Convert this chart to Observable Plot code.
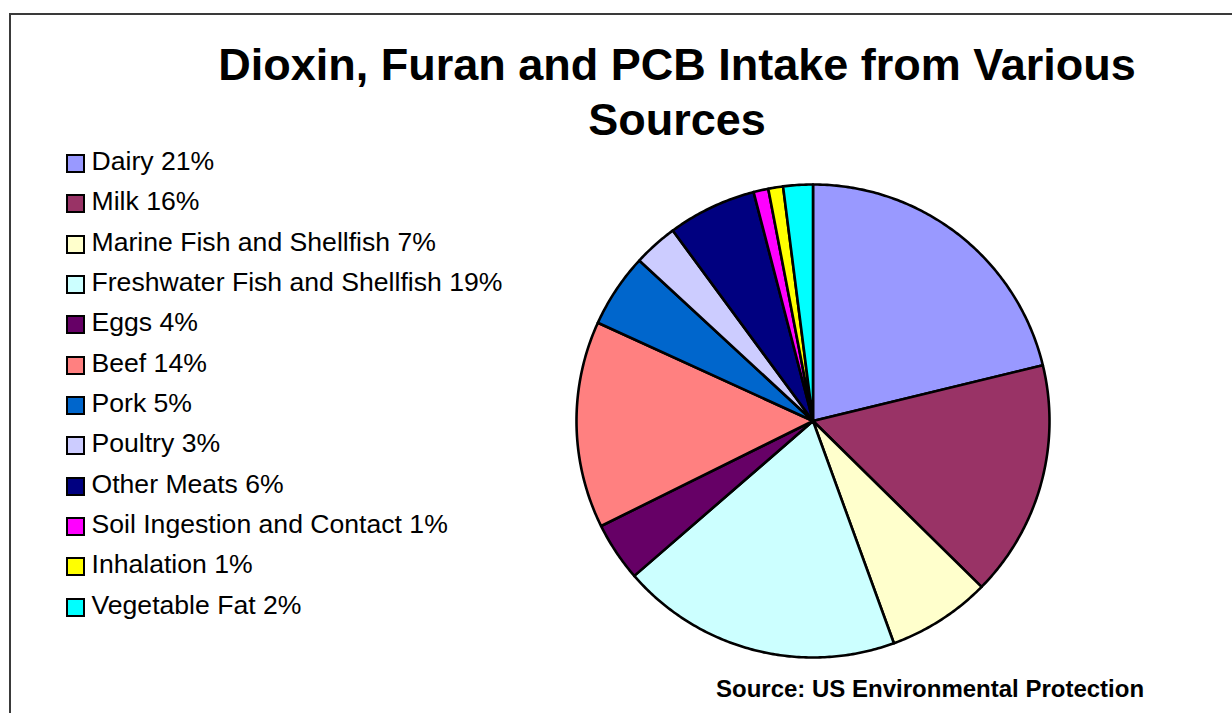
<!DOCTYPE html>
<html>
<head>
<meta charset="utf-8">
<script src="https://cdn.jsdelivr.net/npm/d3@7"></script>
<script src="https://cdn.jsdelivr.net/npm/@observablehq/plot@0.6"></script>
<style>
  body { margin: 0; background: #fff; font-family: "Liberation Sans", Arial, sans-serif; }
  #page { position: relative; width: 1232px; height: 713px; overflow: hidden; background: #fff; }
  #frame { position: absolute; left: 9px; top: 13px; width: 1300px; height: 800px; border: 2px solid #3a3a3a; box-sizing: border-box; pointer-events: none; }
  #title { position: absolute; left: 177px; width: 1000px; top: 37px; text-align: center; font-weight: bold; font-size: 45px; line-height: 55px; color: #000; }
  #legend { position: absolute; left: 66px; top: 141px; }
  .row { position: relative; height: 40.35px; width: 520px; }
  .sw { position: absolute; left: 0; top: 13px; width: 19px; height: 19px; border: 2.2px solid #000; box-sizing: border-box; }
  .lab { position: absolute; left: 25.5px; top: 0; font-size: 26.6px; line-height: 40.35px; white-space: nowrap; color: #000; }
  #caption { position: absolute; left: 716px; top: 676.7px; font-weight: bold; font-size: 24px; line-height: 24px; white-space: nowrap; color: #000; }
  #chart { position: absolute; left: 0; top: 0; }
</style>
</head>
<body>
<div id="page">
  <div id="chart"></div>
  <div id="title">Dioxin, Furan and PCB Intake from Various<br>Sources</div>
  <div id="legend"></div>
  <div id="caption">Source: US Environmental Protection</div>
  <div id="frame"></div>
</div>
<script>
// ---- data ----
const categories = [
  "Dairy", "Milk", "Marine Fish and Shellfish", "Freshwater Fish and Shellfish",
  "Eggs", "Beef", "Pork", "Poultry", "Other Meats",
  "Soil Ingestion and Contact", "Inhalation", "Vegetable Fat"
];
const percents = [21, 16, 7, 19, 4, 14, 5, 3, 6, 1, 1, 2];
const colors = [
  "#9999FF", "#993366", "#FFFFCC", "#CCFFFF",
  "#660066", "#FF8080", "#0066CC", "#CCCCFF", "#000080",
  "#FF00FF", "#FFFF00", "#00FFFF"
];
const titleText = "Dioxin, Furan and PCB Intake from Various Sources";
const captionText = "Source: US Environmental Protection";

// ---- layout ----
const W = 1232, H = 713;
const cx = 812.5, cy = 420.5, R = 236.5;

// ---- slices from d3.pie (clockwise from 12 o'clock) ----
const labels = categories.map((c, i) => `${c} ${percents[i]}%`);
const arcs = d3.pie().sort(null).value(d => d.value)(
  categories.map((c, i) => ({name: labels[i], value: percents[i]}))
);
const features = arcs.map(a => {
  const pts = [[0, 0]];
  const n = Math.max(4, Math.ceil((a.endAngle - a.startAngle) / 0.01));
  for (let k = 0; k <= n; k++) {
    const t = a.startAngle + (a.endAngle - a.startAngle) * k / n;
    pts.push([Math.sin(t), Math.cos(t)]);
  }
  pts.push([0, 0]);
  return {type: "Feature", properties: {name: a.data.name}, geometry: {type: "Polygon", coordinates: [pts]}};
});

const projection = d3.geoIdentity().reflectY(true).scale(R).translate([cx, cy]);

const plot = Plot.plot({
  width: W,
  height: H,
  margin: 0,
  style: {background: "transparent", overflow: "visible"},
  projection,
  color: {domain: labels, range: colors},
  marks: [
    Plot.geo(features, {fill: d => d.properties.name, stroke: "#000", strokeWidth: 2.6, strokeLinejoin: "round"})
  ]
});
document.getElementById("chart").appendChild(plot);

// ---- legend ----
const legend = document.getElementById("legend");
labels.forEach((l, i) => {
  const row = document.createElement("div");
  row.className = "row";
  const sw = document.createElement("div");
  sw.className = "sw";
  sw.style.background = colors[i];
  const lab = document.createElement("div");
  lab.className = "lab";
  lab.textContent = l;
  row.appendChild(sw);
  row.appendChild(lab);
  legend.appendChild(row);
});
</script>
</body>
</html>
